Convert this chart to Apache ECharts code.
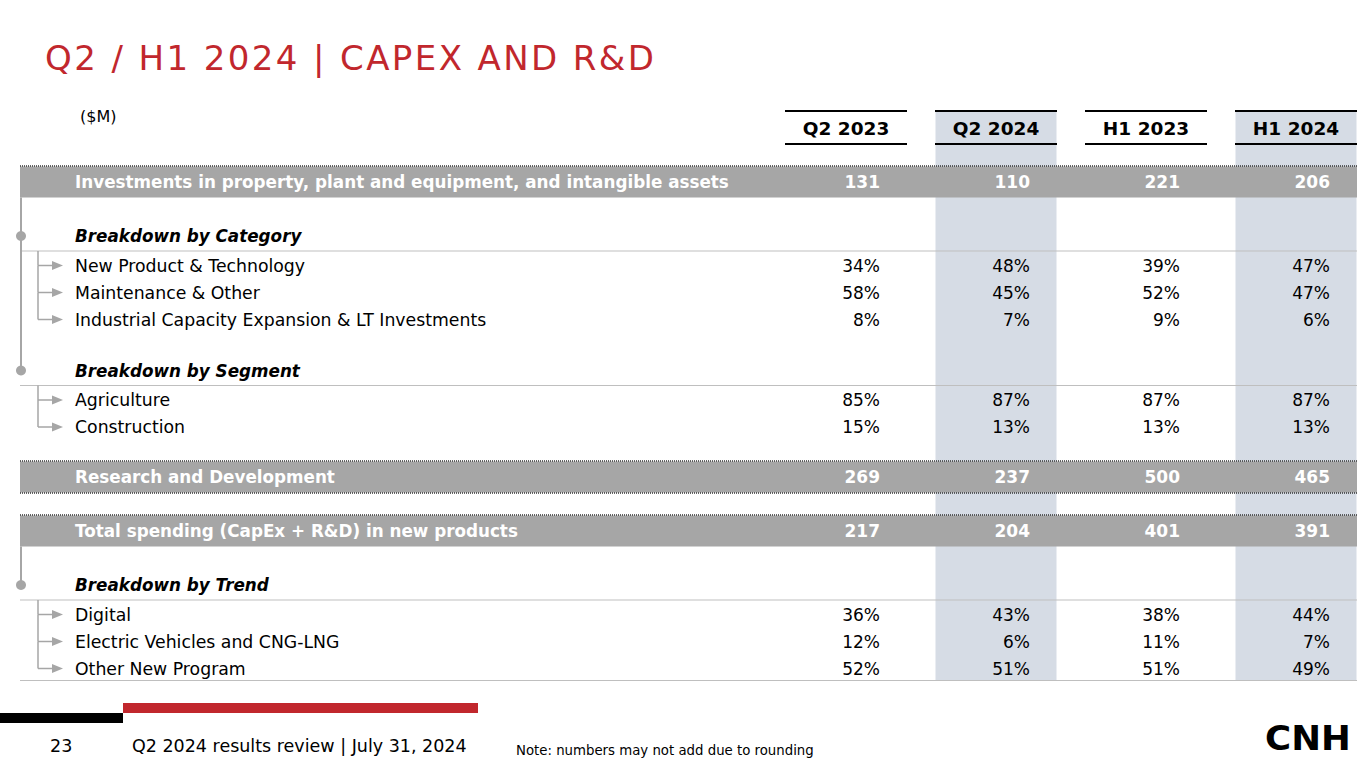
<!DOCTYPE html>
<html>
<head>
<meta charset="utf-8">
<script src="https://cdn.jsdelivr.net/npm/echarts@6/dist/echarts.min.js"></script>
<style>
  html, body { margin: 0; padding: 0; background: #fff; }
  #chart { width: 1365px; height: 768px; }
  /* spaced-out slide title */
  #chart svg text[fill="#c1272d"], #chart svg text[fill="rgb(193,39,45)"] { letter-spacing: 2.4px; }
</style>
</head>
<body>
<div id="chart"></div>
<script>
// table data ($M and %)
const periods = ["Q2 2023", "Q2 2024", "H1 2023", "H1 2024"];
const shadedPeriods = [false, true, false, true];

const capexTotal = [131, 110, 221, 206];
const newProductTech = [34, 48, 39, 47];
const maintenanceOther = [58, 45, 52, 47];
const capacityExpansion = [8, 7, 9, 6];
const agriculture = [85, 87, 87, 87];
const construction = [15, 13, 13, 13];
const researchDev = [269, 237, 500, 465];
const totalNewProducts = [217, 204, 401, 391];
const digital = [36, 43, 38, 44];
const electricCng = [12, 6, 11, 7];
const otherProgram = [52, 51, 51, 49];

const rows = [
  { label: "Investments in property, plant and equipment, and intangible assets", kind: "band", values: capexTotal },
  { label: "Breakdown by Category", kind: "head" },
  { label: "New Product & Technology", kind: "item", values: newProductTech, pct: true },
  { label: "Maintenance & Other", kind: "item", values: maintenanceOther, pct: true },
  { label: "Industrial Capacity Expansion & LT Investments", kind: "item", values: capacityExpansion, pct: true },
  { label: "Breakdown by Segment", kind: "head" },
  { label: "Agriculture", kind: "item", values: agriculture, pct: true },
  { label: "Construction", kind: "item", values: construction, pct: true },
  { label: "Research and Development", kind: "band", values: researchDev, closed: true },
  { label: "Total spending (CapEx + R&D) in new products", kind: "band", values: totalNewProducts },
  { label: "Breakdown by Trend", kind: "head" },
  { label: "Digital", kind: "item", values: digital, pct: true },
  { label: "Electric Vehicles and CNG-LNG", kind: "item", values: electricCng, pct: true },
  { label: "Other New Program", kind: "item", values: otherProgram, pct: true }
];

// vertical spacing between row kinds (axis units = px)
const gaps = {
  "band>head": 54, "head>item": 29.5, "item>item": 27,
  "item>head": 51, "item>band": 50, "band>band": 54
};
const slots = [];
rows.forEach((r, i) => {
  if (i === 0) slots.push(0);
  else slots.push(slots[i - 1] + gaps[rows[i - 1].kind + ">" + r.kind]);
});
const ymax = slots[slots.length - 1];

const FONT = "DejaVu Sans";
const GRAY = "#a6a6a6";
const LEFT = 20, RIGHT = 1357;

const chart = echarts.init(document.getElementById("chart"), null, { renderer: "svg" });

function rowY(api, i) {
  return api.coord([0, slots[i]])[1];
}

function renderRow(params, api) {
  const i = params.dataIndex;
  const r = rows[i];
  const y = rowY(api, i);
  const ch = [];
  if (r.kind === "band") {
    ch.push({ type: "rect", shape: { x: LEFT, y: y - 15.5, width: RIGHT - LEFT, height: 31 }, style: { fill: GRAY } });
    ch.push({ type: "line", shape: { x1: LEFT, y1: y - 16, x2: RIGHT, y2: y - 16 }, style: { stroke: "#333", lineWidth: 1.5, lineDash: [1, 1] } });
    if (r.closed) {
      ch.push({ type: "line", shape: { x1: LEFT, y1: y + 16, x2: RIGHT, y2: y + 16 }, style: { stroke: "#333", lineWidth: 1.5, lineDash: [1, 1] } });
    }
  }
  if (r.kind === "head") {
    // trunk from previous band/head
    let j = i - 1;
    while (rows[j].kind === "item") j--;
    const py = rowY(api, j) + (rows[j].kind === "band" ? 15.5 : 0);
    ch.push({ type: "line", shape: { x1: 21, y1: py, x2: 21, y2: y }, style: { stroke: GRAY, lineWidth: 2 } });
    ch.push({ type: "circle", shape: { cx: 21, cy: y, r: 5 }, style: { fill: GRAY } });
    ch.push({ type: "line", shape: { x1: LEFT, y1: y + 15, x2: RIGHT, y2: y + 15 }, style: { stroke: "#bfbfbf", lineWidth: 1 } });
  }
  if (r.kind === "item") {
    const prev = rows[i - 1];
    const py = rowY(api, i - 1) + (prev.kind === "head" ? 15 : 0);
    ch.push({ type: "line", shape: { x1: 38, y1: py, x2: 38, y2: y }, style: { stroke: GRAY, lineWidth: 1.5 } });
    ch.push({ type: "line", shape: { x1: 38, y1: y, x2: 53, y2: y }, style: { stroke: GRAY, lineWidth: 1.5 } });
    ch.push({ type: "polygon", shape: { points: [[52, y - 4.5], [63, y], [52, y + 4.5]] }, style: { fill: GRAY } });
    if (i === rows.length - 1) {
      ch.push({ type: "line", shape: { x1: LEFT, y1: y + 12, x2: RIGHT, y2: y + 12 }, style: { stroke: "#bfbfbf", lineWidth: 1 } });
    }
  }
  const isBand = r.kind === "band";
  const isHead = r.kind === "head";
  ch.push({
    type: "text",
    style: {
      x: 75, y: y, text: r.label, textVerticalAlign: "middle",
      fill: isBand ? "#fff" : "#000",
      font: (isHead ? "italic bold 16.8px " : isBand ? "bold 16.8px " : "17.3px ") + "'" + FONT + "'"
    }
  });
  if (r.values) {
    r.values.forEach((v, p) => {
      const x = api.coord([p, slots[i]])[0] + 34;
      ch.push({
        type: "text",
        style: {
          x: x, y: y, text: v + (r.pct ? "%" : ""), textAlign: "right", textVerticalAlign: "middle",
          fill: isBand ? "#fff" : "#000",
          font: (isBand ? "bold " : "") + "17px '" + FONT + "'"
        }
      });
    });
  }
  return { type: "group", children: ch };
}

function renderColumn(params, api) {
  const p = params.dataIndex;
  const cx = api.coord([p, 0])[0];
  const ch = [];
  if (shadedPeriods[p]) {
    ch.push({ type: "rect", shape: { x: cx - 60.5, y: 111, width: 121, height: 570 }, style: { fill: "#d6dce5" } });
  }
  ch.push({ type: "line", shape: { x1: cx - 61, y1: 111, x2: cx + 61, y2: 111 }, style: { stroke: "#000", lineWidth: 2 } });
  ch.push({ type: "line", shape: { x1: cx - 61, y1: 144, x2: cx + 61, y2: 144 }, style: { stroke: "#000", lineWidth: 2 } });
  ch.push({
    type: "text",
    style: { x: cx, y: 128.5, text: periods[p], textAlign: "center", textVerticalAlign: "middle", fill: "#000", font: "bold 18.5px '" + FONT + "'" }
  });
  return { type: "group", children: ch };
}

const option = {
  animation: false,
  title: {
    text: "Q2 / H1 2024 | CAPEX AND R&D",
    left: 40, top: 36,
    textStyle: { color: "#c1272d", fontSize: 34, fontWeight: "normal", fontFamily: FONT }
  },
  // 150px per period column: centres at 846, 996, 1146, 1296
  grid: { left: 771, width: 594, top: 182, height: ymax },
  xAxis: { type: "value", min: -0.5, max: 3.46, show: false },
  yAxis: { type: "value", inverse: true, min: 0, max: ymax, show: false },
  series: [
    {
      type: "custom", z: 1, silent: true,
      data: periods.map((p, i) => [i, 0]),
      renderItem: renderColumn
    },
    {
      type: "custom", z: 3, silent: true,
      data: rows.map((r, i) => [0, slots[i]]),
      renderItem: renderRow
    }
  ],
  graphic: [
    { type: "text", left: 80, top: 108, style: { text: "($M)", fill: "#000", font: "16px '" + FONT + "'" } },
    { type: "rect", shape: { x: 0, y: 713, width: 123, height: 10 }, style: { fill: "#000" } },
    { type: "rect", shape: { x: 123, y: 703, width: 355, height: 10 }, style: { fill: "#c1272d" } },
    { type: "text", left: 50, top: 737, style: { text: "23", fill: "#000", font: "17.5px '" + FONT + "'" } },
    { type: "text", left: 132, top: 737, style: { text: "Q2 2024 results review | July 31, 2024", fill: "#000", font: "17.5px '" + FONT + "'" } },
    { type: "text", left: 516, top: 744, style: { text: "Note: numbers may not add due to rounding", fill: "#000", font: "13.3px '" + FONT + "'" } },
    { type: "text", left: 1265, top: 722, scaleX: 1.08, style: { text: "CNH", fill: "#000", font: "bold 33px '" + FONT + "'" } }
  ]
};

chart.setOption(option);
</script>
</body>
</html>
